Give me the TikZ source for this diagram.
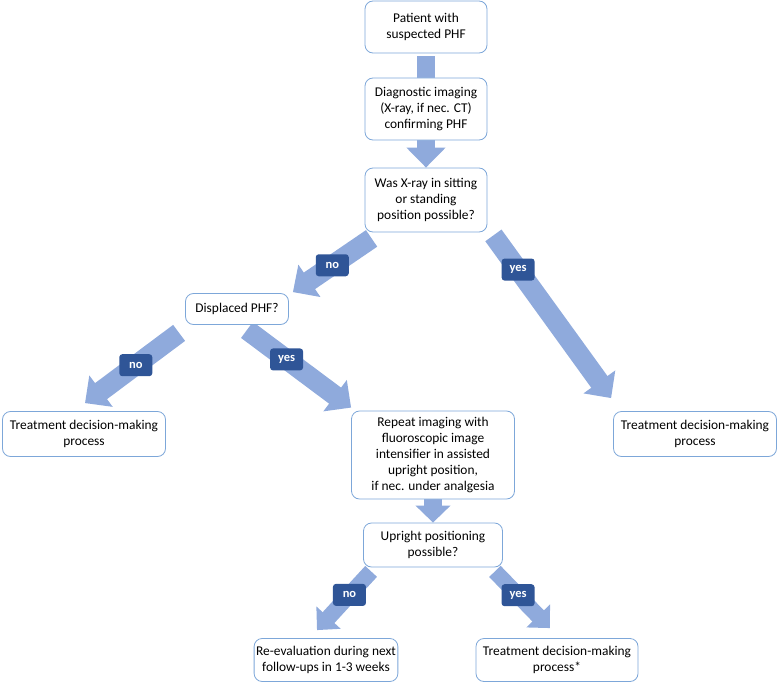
\documentclass[tikz,border=0pt]{standalone}
\usepackage{fontspec}
\setmainfont{Carlito}
\usepackage{xcolor}
\usetikzlibrary{arrows.meta,positioning,calc,backgrounds}
\definecolor{arrowblue}{HTML}{8FAADC}
\definecolor{boxedge}{HTML}{7DA7D9}
\definecolor{tagblue}{HTML}{2F5597}

\begin{document}
\begin{tikzpicture}[
  x=1pt, y=-1pt,
  font=\fontsize{13.4}{16}\selectfont,
  stepbox/.style={draw=boxedge, line width=0.8pt, fill=white, rounded corners=8pt,
    align=center, inner sep=2pt},
  flow/.style={arrowblue, line width=20pt, -{Triangle[width=38pt,length=20pt]}},
  thinflow/.style={flow, line width=16pt, -{Triangle[width=32pt,length=17pt]}},
  tag/.style={fill=tagblue, text=white, rounded corners=3pt, inner sep=0pt,
    minimum width=33pt, minimum height=22pt, font=\fontsize{12.5}{14}\selectfont\bfseries}
]
\useasboundingbox (0,0) rectangle (779,685);
\node[stepbox, minimum width=122pt, minimum height=52pt] (start) at (426,27)
  {Patient with\\suspected PHF};
\node[stepbox, minimum width=122pt, minimum height=62pt] (imaging) at (426,109)
  {Diagnostic imaging\\(X-ray, if nec. CT)\\confirming PHF};
\node[stepbox, minimum width=122pt, minimum height=64pt] (ask) at (426,200)
  {Was X-ray in sitting\\or standing\\position possible?};
\node[stepbox, minimum width=103pt, minimum height=31pt] (displaced) at (237,309)
  {Displaced PHF?};
\node[stepbox, minimum width=163pt, minimum height=45pt] (treatL) at (84,434)
  {Treatment decision-making\\process};
\node[stepbox, minimum width=163pt, minimum height=45pt] (treatR) at (695,434)
  {Treatment decision-making\\process};
\node[stepbox, minimum width=163pt, minimum height=88pt] (repeat) at (433,455)
  {Repeat imaging with\\fluoroscopic image\\intensifier in assisted\\upright position,\\if nec. under analgesia};
\node[stepbox, minimum width=139pt, minimum height=44pt] (upright) at (433,545)
  {Upright positioning\\possible?};
\node[stepbox, minimum width=136pt, minimum height=43pt] (reeval) at (326,660)
  {Re-evaluation during next\\follow-ups in 1-3 weeks};
\node[stepbox, minimum width=162pt, minimum height=43pt] (treatS) at (557,660)
  {Treatment decision-making\\process*};

\begin{scope}[on background layer]
  \draw[arrowblue, line width=18pt, shorten <=3pt] (start) -- (imaging);
  \draw[flow, line width=18pt] (imaging) -- (ask);
  \draw[flow] ($(ask.south west)+(7,6)$) -- ($(displaced.north east)+(4,-1)$)
    node[tag, pos=0.5] {no};
  \draw[flow] ($(ask.south east)+(6,3)$) -- ($(treatR.north west)+(-2,-13)$)
    node[tag, pos=0.21] {yes};
  \draw[flow] ($(displaced.south west)+(-6,8)$) -- ($(treatL.north)+(1,-8)$)
    node[tag, pos=0.46] {no};
  \draw[flow] ($(displaced.south)+(10,5)$) -- ($(repeat.north west)+(0,-3)$)
    node[tag, pos=0.38] {yes};
  \draw[flow, line width=18pt, -{Triangle[width=34pt,length=17pt]}] (repeat) -- (upright);
  \draw[thinflow] ($(upright.south west)+(8,4)$) -- ($(reeval.north)+(-9,-8)$)
    node[tag, pos=0.4] {no};
  \draw[thinflow] ($(upright.south east)+(-8,4)$) -- ($(treatS.north)+(-7,-10)$)
    node[tag, pos=0.42] {yes};
\end{scope}
\end{tikzpicture}
\end{document}
